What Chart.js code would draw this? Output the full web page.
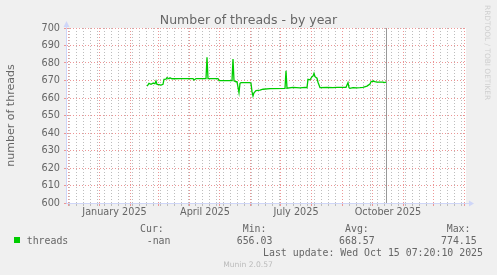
<!DOCTYPE html>
<html><head><meta charset="utf-8">
<script src="https://cdn.jsdelivr.net/npm/chart.js@4/dist/chart.umd.min.js"></script>
<style>html,body{margin:0;padding:0;background:#F0F0F0;overflow:hidden}</style>
</head><body><canvas id="c" width="497" height="275"></canvas>
<script>
// ---- data (x = days since 2024-12-01) ----
const chartTitle = 'Number of threads - by year';
const yAxisTitle = 'number of threads';
const dayOffsets = [79,80,81,83,85,87,88,89,91,93,95,96,98,99,101,102,104,112,125,126,128,138,139,140,150,151,164,165,166,168,169,171,172,173,182,183,184,185,186,188,192,195,202,217,218,219,225,232,237,239,240,242,244,245,246,247,249,250,252,259,265,269,278,280,281,282,285,289,292,295,299,300,302,303,305,307,309,312,315,316,318];
const threads = [666.8,667.5,668.4,667.8,668.5,668.2,669.7,667.8,667.6,667.4,667.8,670.7,670.8,671.6,671.0,671.5,671.0,671.1,671.1,670.3,671.1,671.1,683.3,671.1,671.1,669.9,669.9,682.2,669.8,669.3,669.3,663.0,668.4,668.8,668.8,668.4,663.6,661.1,663.0,664.2,664.5,665.0,665.3,665.5,675.5,665.6,666.1,665.8,666.1,665.9,670.7,670.4,672.2,672.5,674.1,672.2,671.3,669.0,665.9,666.1,665.9,666.1,666.1,668.8,665.9,665.5,665.9,665.8,665.9,666.1,666.8,667.2,668.0,669.3,669.7,669.3,669.1,669.1,669.1,668.8,669.1];
const monthStartDays = [0,31,62,90,121,151,182,212,243,274,304,335,365,396];
const weekStartDays = [1,8,15,22,29,36,43,50,57,64,71,78,85,92,99,106,113,120,127,134,141,148,155,162,169,176,183,190,197,204,211,218,225,232,239,246,253,260,267,274,281,288,295,302,309,316,323,330,337,344,351,358,365,372,379,386,393];
const xLabelDays = [46.5,137,228,320];
const xLabels = ['January 2025','April 2025','July 2025','October 2025'];
const nowDay = 318.3;
const legendName = 'threads';
const legendHeads = ['Cur:','Min:','Avg:','Max:'];
const legendVals = ['-nan','656.03','668.57','774.15'];
const lastUpdate = 'Last update: Wed Oct 15 07:20:10 2025';
const footer = 'Munin 2.0.57';
const sideText = 'RRDTOOL / TOBI OETIKER';

const RED = 'rgba(236,150,150,1)';
const GRAY = '#bdbdbd';
const AXIS = '#CFD6F8';
const FONTC = '#666666';

function xKind(v){
  if (monthStartDays.includes(v)) return 'major';
  if (weekStartDays.includes(v)) return 'minor';
  return 'label';
}

const chrome = {
  id:'chrome',
  beforeDraw(chart){
    const c = chart.ctx, a = chart.chartArea;
    c.save();
    c.fillStyle = '#F0F0F0'; c.fillRect(0,0,chart.width,chart.height);
    c.fillStyle = '#FFFFFF'; c.fillRect(a.left,a.top,a.right-a.left,a.bottom-a.top);
    c.restore();
  },
  beforeDatasetsDraw(chart){
    const c = chart.ctx, a = chart.chartArea, xs = chart.scales.x;
    const px = Math.round(xs.getPixelForValue(nowDay)) + 0.5;
    c.save();
    c.strokeStyle = '#999999'; c.lineWidth = 1;
    c.beginPath(); c.moveTo(px, a.top); c.lineTo(px, a.bottom); c.stroke();
    c.restore();
  },
  afterDraw(chart){
    const c = chart.ctx, a = chart.chartArea;
    c.save();
    // axes
    c.strokeStyle = AXIS; c.lineWidth = 1;
    c.beginPath();
    c.moveTo(a.left - 0.5, a.bottom + 0.5); c.lineTo(a.right + 4, a.bottom + 0.5);
    c.moveTo(a.left - 0.5, a.bottom + 0.5); c.lineTo(a.left - 0.5, a.top - 2);
    c.stroke();
    c.fillStyle = AXIS;
    c.beginPath(); c.moveTo(a.left - 0.5, a.top - 7); c.lineTo(a.left - 3.5, a.top - 1); c.lineTo(a.left + 2.5, a.top - 1); c.closePath(); c.fill();
    c.beginPath(); c.moveTo(a.right + 8, a.bottom + 0.5); c.lineTo(a.right + 3, a.bottom - 2.5); c.lineTo(a.right + 3, a.bottom + 3.5); c.closePath(); c.fill();
    // title
    c.fillStyle = FONTC;
    c.font = '12.5px "DejaVu Sans"';
    c.textAlign = 'center'; c.textBaseline = 'alphabetic';
    c.fillText(chartTitle, 248.5, 23.5);
    // y title
    c.save();
    c.translate(13.5, (a.top + a.bottom)/2);
    c.rotate(-Math.PI/2);
    c.font = '11px "DejaVu Sans"';
    c.textAlign = 'center'; c.textBaseline = 'alphabetic';
    c.fillText(yAxisTitle, 0, 0);
    c.restore();
    // side text
    c.save();
    c.translate(485, 5);
    c.rotate(Math.PI/2);
    c.fillStyle = '#CFCFCF';
    c.font = '7.4px "DejaVu Sans"';
    c.textAlign = 'left'; c.textBaseline = 'alphabetic';
    c.fillText(sideText, 0, 0);
    c.restore();
    // legend
    c.font = '9.9px "DejaVu Sans Mono"';
    c.textAlign = 'left'; c.textBaseline = 'alphabetic';
    c.fillStyle = FONTC;
    const headX = [140, 242.7, 345, 446.7];
    const valX = [146.7, 236.7, 339, 441];
    legendHeads.forEach((h,i)=>c.fillText(h, headX[i], 232));
    c.fillText(legendName, 26.7, 243.5);
    legendVals.forEach((v,i)=>c.fillText(v, valX[i], 243.5));
    c.textAlign = 'right';
    c.fillText(lastUpdate, 483, 255.5);
    c.fillStyle = '#00CC00';
    c.fillRect(14, 237, 6, 6);
    // footer
    c.fillStyle = '#BBBBBB';
    c.font = '7.6px "DejaVu Sans"';
    c.textAlign = 'center';
    c.fillText(footer, 248, 266.5);
    c.restore();
  }
};

new Chart(document.getElementById('c'), {
  type:'line',
  data:{datasets:[{
    label: legendName,
    data: dayOffsets.map((d,i)=>({x:d, y:threads[i]})),
    borderColor:'#00CC00', borderWidth:1.3, pointRadius:0, tension:0, fill:false
  }]},
  options:{
    responsive:false, animation:false, devicePixelRatio:1,
    layout:{padding:{top:28, right:31, left:0, bottom:0}},
    plugins:{legend:{display:false}, tooltip:{enabled:false}, title:{display:false}},
    scales:{
      x:{
        type:'linear', min:-1, max:398,
        afterFit(s){ s.height = 72; },
        afterBuildTicks(s){
          const all = [...monthStartDays, ...weekStartDays.filter(d=>!monthStartDays.includes(d)), ...xLabelDays];
          s.ticks = all.filter(v=>v>=-1 && v<=398).sort((p,q)=>p-q).map(v=>({value:v}));
        },
        grid:{
          color: ctx => { const k = xKind(ctx.tick.value); return k==='major'?RED:(k==='minor'?GRAY:'rgba(0,0,0,0)'); },
          tickColor: ctx => { const k = xKind(ctx.tick.value); return k==='major'?RED:(k==='minor'?GRAY:'rgba(0,0,0,0)'); },
          lineWidth:1, drawTicks:true, tickLength:3
        },
        border:{display:false, dash:[1,2]},
        ticks:{
          autoSkip:false, maxRotation:0, minRotation:0, padding:1,
          color:FONTC, font:{family:'DejaVu Sans', size:9.7},
          callback:(v)=>{ const i = xLabelDays.indexOf(v); return i>=0 ? xLabels[i] : ''; }
        }
      },
      y:{
        min:600, max:700,
        afterFit(s){ s.width = 67; },
        grid:{
          color: ctx => (ctx.tick.value % 10 === 0 ? RED : GRAY),
          tickColor: ctx => (ctx.tick.value % 10 === 0 ? RED : GRAY),
          lineWidth:1, drawTicks:true, tickLength:3
        },
        border:{display:false, dash:[1,2]},
        ticks:{
          stepSize:5, padding:4, color:FONTC, font:{family:'DejaVu Sans', size:9.7},
          callback:(v)=> (v % 10 === 0 ? String(v) : '')
        }
      }
    }
  },
  plugins:[chrome]
});
</script>
</body></html>
